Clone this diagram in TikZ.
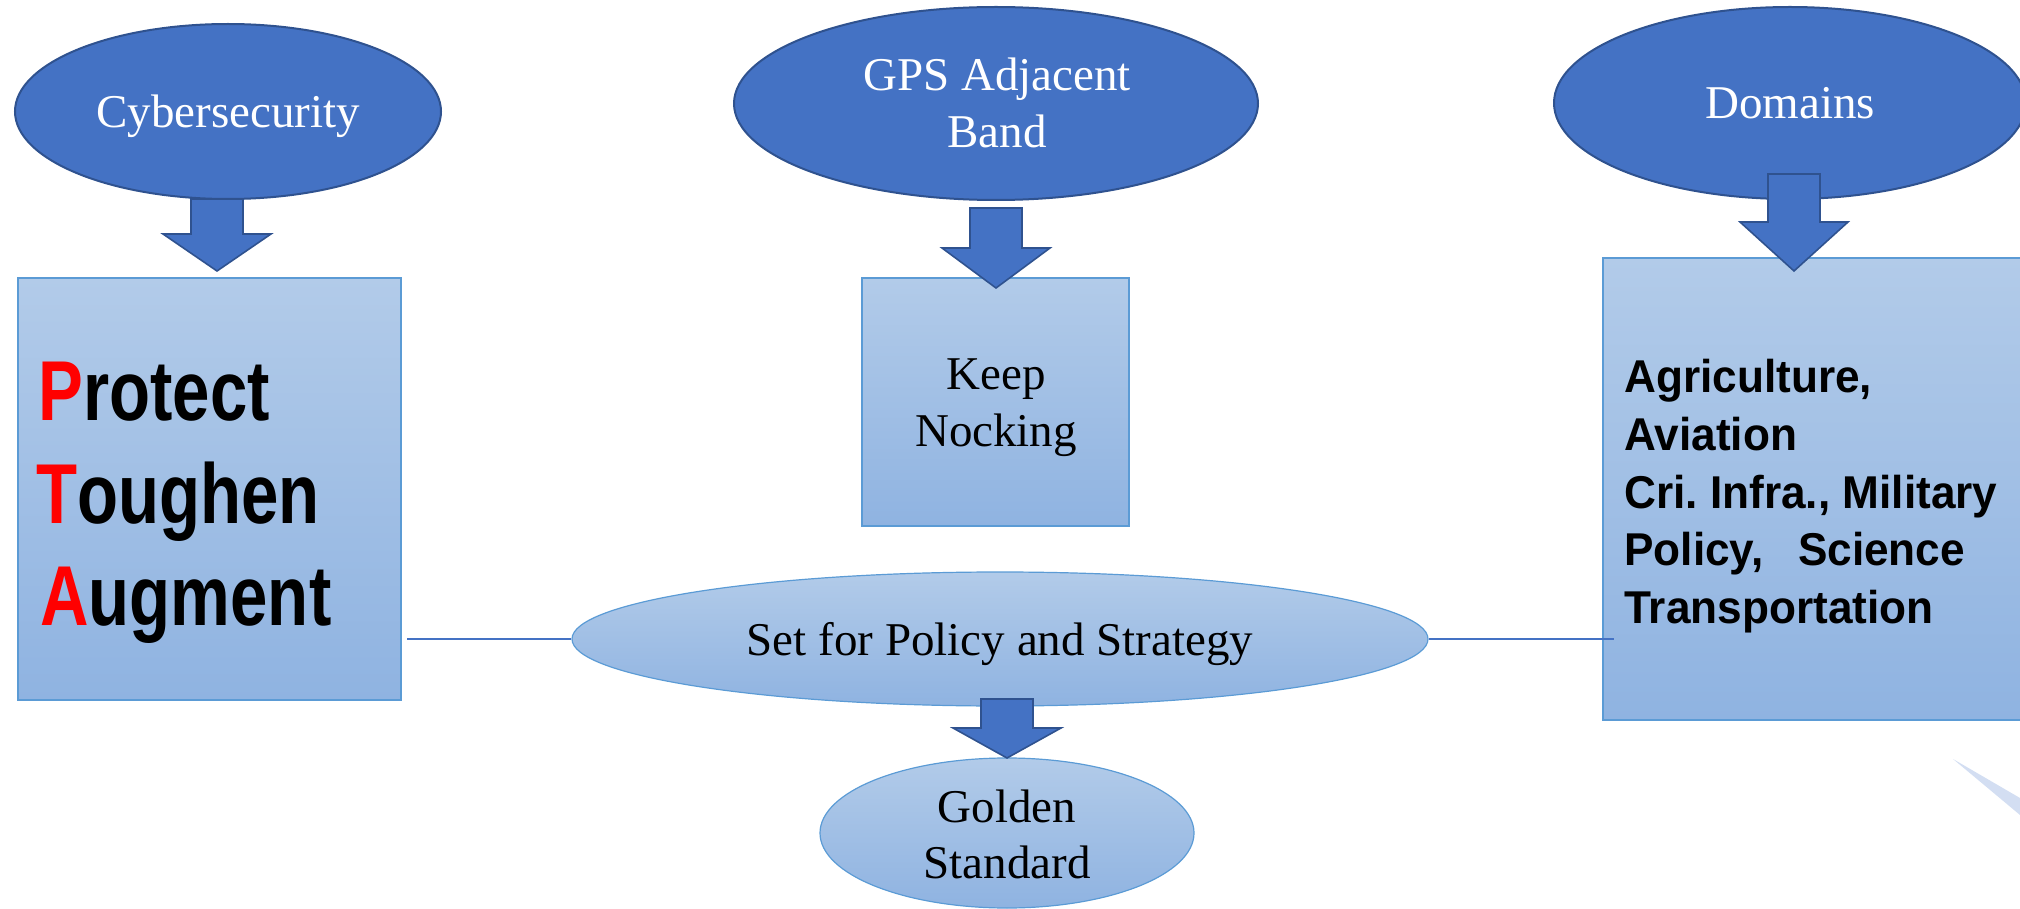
\documentclass[tikz,border=0pt]{standalone}
\usepackage{fontspec}
\setmainfont{Liberation Serif}
\newfontfamily\ptafont{Liberation Sans}
\usetikzlibrary{shapes.geometric,calc}
\definecolor{dkblue}{HTML}{4472C4}
\definecolor{dkedge}{HTML}{2F528F}
\definecolor{ltedge}{HTML}{5B9BD5}
\definecolor{lttop}{HTML}{B2CBE9}
\definecolor{ltbot}{HTML}{8FB3E1}
\definecolor{ptared}{HTML}{FF0000}
\definecolor{wedgecol}{HTML}{D3DEF2}
\newcommand{\blkarrow}[4]{%
  \draw[barrow] (#1-26,#2) -- (#1+26,#2) -- (#1+26,#3) -- (#1+54,#3) -- (#1,#4) -- (#1-54,#3) -- (#1-26,#3) -- cycle;}
\begin{document}
\begin{tikzpicture}[x=0.5pt,y=-0.5pt,
  darkell/.style={ellipse,draw=dkedge,fill=dkblue,line width=1pt,inner sep=0pt},
  lightell/.style={ellipse,draw=ltedge,top color=lttop,bottom color=ltbot,line width=0.6pt,inner sep=0pt},
  lightbox/.style={rectangle,draw=ltedge,top color=lttop,bottom color=ltbot,line width=0.6pt,inner sep=0pt},
  barrow/.style={draw=dkedge,fill=dkblue,line width=0.8pt,line join=miter},
  whitetxt/.style={text=white,font=\fontsize{23.5}{28}\selectfont,inner sep=0pt,anchor=base},
  blacktxt/.style={text=black,font=\fontsize{23.5}{28}\selectfont,inner sep=0pt,anchor=base},
  ptatxt/.style={font=\ptafont\bfseries\fontsize{42.5}{51}\selectfont,inner sep=0pt,anchor=base west},
  domtxt/.style={font=\ptafont\bfseries\fontsize{23}{28}\selectfont,inner sep=0pt,anchor=base west},
  link/.style={draw=dkblue,line width=0.6pt}]
\useasboundingbox (0,0) rectangle (2020,909);
\clip (0,0) rectangle (2020,909);

% boxes
\node[lightbox,minimum width=191.5pt,minimum height=211pt] (pta) at (209.5,489) {};
\node[lightbox,minimum width=133.5pt,minimum height=124pt] (keep) at (995.5,402) {};
\node[lightbox,minimum width=248.5pt,minimum height=231pt] (dom) at (1851.5,489) {};

% ellipses
\node[darkell,minimum width=213pt,minimum height=87.5pt] (cyber) at (228,111.5) {};
\node[darkell,minimum width=262pt,minimum height=96.5pt] (gps) at (996,103.5) {};
\node[darkell,minimum width=236pt,minimum height=96pt] (domell) at (1790,103) {};
\node[lightell,minimum width=428pt,minimum height=67pt] (set) at (1000,639) {};
\node[lightell,minimum width=187pt,minimum height=75pt] (gold) at (1007,833) {};

% connectors
\draw[link] (set.west) -- ($(set.west -| pta.east)+(5,0)$);
\draw[link] (set.east) -- ($(set.east -| dom.west)+(12,0)$);

% block arrows
\blkarrow{217}{199}{234}{271}
\blkarrow{996}{208}{248}{288}
\blkarrow{1794}{174}{222}{271}
\blkarrow{1007}{699}{728}{758}

% texts
\node[whitetxt] (cybertxt) at (228,128) {Cybersecurity};
\node[whitetxt] (gpstxta) at (997,91) {GPS Adjacent};
\node[whitetxt] (gpstxtb) at (997,148) {Band};
\node[whitetxt] (domtitle) at (1790,119) {Domains};
\node[blacktxt] (keepa) at (996,389) {Keep};
\node[blacktxt] (keepb) at (996,446) {Nocking};
\node[blacktxt] (settxt) at (1000,655) {Set for Policy and Strategy};
\node[blacktxt] (golda) at (1007,822) {Golden};
\node[blacktxt] (goldb) at (1007,878) {Standard};

\node[ptatxt] (ptaa) at (38,421) {\scalebox{0.79}[1]{\textcolor{ptared}{P}rotect}};
\node[ptatxt] (ptab) at (36,523) {\scalebox{0.79}[1]{\textcolor{ptared}{T}oughen}};
\node[ptatxt] (ptac) at (40,625) {\scalebox{0.79}[1]{\textcolor{ptared}{A}ugment}};

\node[domtxt] (doma) at (1624,393) {\scalebox{0.96}[1]{Agriculture,}};
\node[domtxt] (domb) at (1624,451) {\scalebox{0.96}[1]{Aviation}};
\node[domtxt] (domc) at (1624,508) {\scalebox{0.96}[1]{Cri.\ Infra., Military}};
\node[domtxt] (domd) at (1624,565) {\scalebox{0.96}[1]{Policy,\hspace{18pt}Science}};
\node[domtxt] (dome) at (1624,623) {\scalebox{0.96}[1]{Transportation}};

% faint wedge
\fill[wedgecol] (1953,759) -- (2020,798) -- (2020,815) -- cycle;
\end{tikzpicture}
\end{document}
